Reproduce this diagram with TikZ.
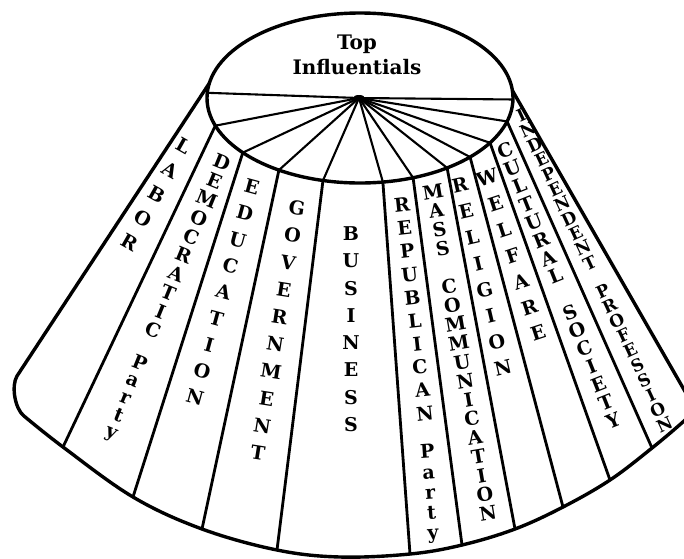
\documentclass[tikz,border=0pt]{standalone}
\usepackage{fontspec}
\setmainfont{DejaVu Serif}
% [#1 options], #2 name, #3 x, #4 y of first letter, #5 rotation, #6 step, #7 letters
\newcommand\lettersalong[7][]{%
  \foreach \ch [count=\k] in {#7} {%
    \node[letter, #1, rotate=#5] (#2-\k) at ({#3+(\k-1)*#6*sin(#5)},{#4+(\k-1)*#6*cos(#5)}) {\makebox[0pt]{\ch}};
  }}
\begin{document}
\begin{tikzpicture}[x=1pt,y=-1pt,
  edge/.style={line width=3.4pt, line join=round, line cap=round},
  div/.style={line width=2.8pt, line cap=round},
  spoke/.style={line width=2.1pt, line cap=round},
  letter/.style={inner sep=0pt, text height=13.9pt, text depth=0pt,
    font={\fontsize{19}{22}\selectfont\bfseries}},
  tight/.style={text height=12.4pt, font={\fontsize{17}{20}\selectfont\bfseries}},
  title/.style={align=center, inner sep=0pt,
    font={\fontsize{20}{25}\selectfont\bfseries}}]
\useasboundingbox (0,0) rectangle (684,558);
\clip (0,0) rectangle (684,558);
% hub and ellipse points
\coordinate (hub) at (359,98);
\coordinate (s0)  at ({360+153*cos(183.5)},{98+85*sin(183.5)});
\coordinate (s1)  at ({360+153*cos(161)},{98+85*sin(161)});
\coordinate (s2)  at ({360+153*cos(140)},{98+85*sin(140)});
\coordinate (s3)  at ({360+153*cos(122)},{98+85*sin(122)});
\coordinate (s4)  at ({360+153*cos(104)},{98+85*sin(104)});
\coordinate (s5)  at ({360+153*cos(81.4)},{98+85*sin(81.4)});
\coordinate (s6)  at ({360+153*cos(69.7)},{98+85*sin(69.7)});
\coordinate (s7)  at ({360+153*cos(55.3)},{98+85*sin(55.3)});
\coordinate (s8)  at ({360+153*cos(44)},{98+85*sin(44)});
\coordinate (s9)  at ({360+153*cos(31.8)},{98+85*sin(31.8)});
\coordinate (s10) at ({360+153*cos(16)},{98+85*sin(16)});
\coordinate (s11) at ({360+153*cos(1)},{98+85*sin(1)});
\coordinate (sL)  at ({360+153*cos(190)},{98+85*sin(190)});
\coordinate (sR)  at ({360+153*cos(-5)},{98+85*sin(-5)});
% bottom points
\coordinate (cL) at (17,376);
\coordinate (bL) at (24,416);
\coordinate (b1) at (63,447);
\coordinate (b2) at (133,497);
\coordinate (b3) at (202,529);
\coordinate (b4) at (277,550);
\coordinate (bm) at (340,557);
\coordinate (b5) at (410,554);
\coordinate (b6) at (462,545);
\coordinate (b7) at (515,529);
\coordinate (b8) at (563,507);
\coordinate (b9) at (610,480);
\coordinate (b10) at (652,448);
\coordinate (bR) at (684,421);
\coordinate (bRR) at (712,395);
\coordinate (cR) at (706,428);
% spokes
\foreach \s in {s0,s1,s2,s3,s4,s5,s6,s7,s8,s9,s10,s11}
  \draw[spoke] (hub) -- (\s);
\fill (hub) ellipse [x radius=6, y radius=3];
% ellipse
\draw[edge] (360,98) ellipse [x radius=153, y radius=85];
% outline of the fan
\draw[edge] (sL) -- (cL) .. controls (11,386) and (15,409) .. (bL)
  -- plot[smooth, tension=0.6] coordinates {(bL) (b1) (b2) (b3) (b4) (bm) (b5) (b6) (b7) (b8) (b9) (b10) (bR) (bRR)};
\draw[edge] (sR) -- (cR);
% dividing lines
\foreach \i in {1,...,10}
  \draw[div] (s\i) -- (b\i);
% title
\node[title] (top) at (357,54.5) {Top\\Influentials};
% strip labels
\lettersalong{labor}{184.2}{146}{-29.5}{27.6}{L,A,B,O,R}
\lettersalong{dem}{222}{162}{-22.3}{20.2}{D,E,M,O,C,R,A,T,I,C}
\lettersalong{demparty}{139.9}{362.5}{-22}{18.6}{P,a,r,t,y}
\lettersalong{edu}{252}{187}{-15.2}{27.2}{E,D,U,C,A,T,I,O,N}
\lettersalong{gov}{296.9}{207.8}{-9}{27.6}{G,O,V,E,R,N,M,E,N,T}
\lettersalong{bus}{351}{233.5}{0}{27.3}{B,U,S,I,N,E,S,S}
\lettersalong{rep}{402}{204.8}{6.3}{23.3}{R,E,P,U,B,L,I,C,A,N}
\lettersalong{repparty}{427.2}{451.5}{4}{20.3}{P,a,r,t,y}
\lettersalong{mass}{433}{191.6}{9.7}{19.2}{M,A,S,S}
\lettersalong{comm}{449.2}{286.2}{9.7}{19.2}{C,O,M,M,U,N,I,C,A,T,I,O,N}
\lettersalong{rel}{460}{184.8}{13.2}{26.9}{R,E,L,I,G,I,O,N}
\lettersalong{wel}{487}{178}{18.2}{27.2}{W,E,L,F,A,R,E}
\lettersalong{cul}{505}{149.9}{21.8}{19.4}{C,U,L,T,U,R,A,L}
\lettersalong{soc}{569.8}{312}{21.8}{19.4}{S,O,C,I,E,T,Y}
\lettersalong[tight]{ind}{521}{115}{24.9}{16.3}{I,N,D,E,P,E,N,D,E,N,T}
\lettersalong[tight]{prof}{602.9}{291.3}{24.9}{16.3}{P,R,O,F,E,S,S,I,O,N}
\end{tikzpicture}
\end{document}
